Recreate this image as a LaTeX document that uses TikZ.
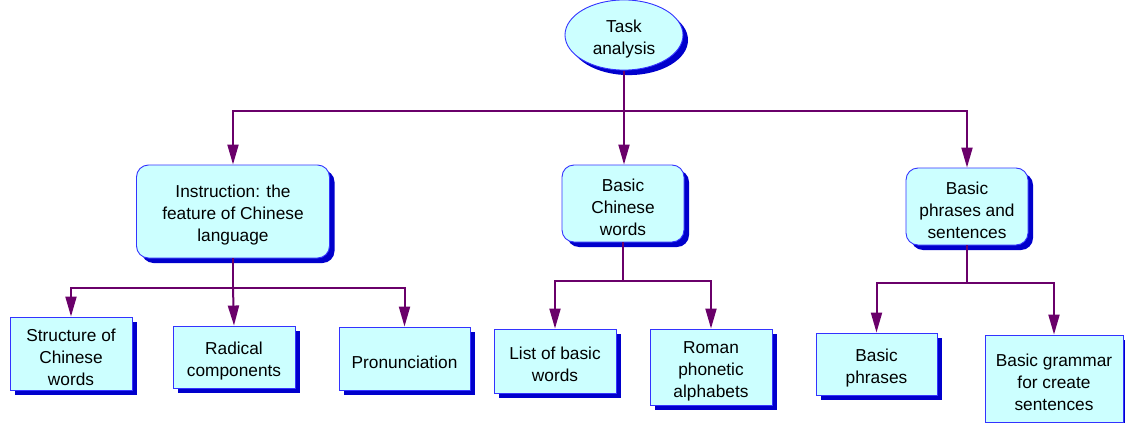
\documentclass[tikz,border=0pt]{standalone}
\usepackage{fontspec}
\setmainfont{Liberation Sans}
\usetikzlibrary{shapes.geometric,shadows,arrows.meta}
\definecolor{boxfill}{HTML}{CCFFFF}
\definecolor{boxline}{HTML}{3333FF}
\definecolor{shadowblue}{HTML}{0000CC}
\definecolor{linkcol}{HTML}{6A006A}
\newcommand\tup{\rule{0pt}{20pt}}
\tikzset{
  base/.style={draw=boxline, line width=0.9pt, fill=boxfill, align=center, inner sep=2pt,
    font=\fontsize{17.3}{22}\selectfont,
    drop shadow={shadow xshift=5pt, shadow yshift=-5pt, fill=shadowblue, opacity=1}},
  topbox/.style={base, rectangle, rounded corners=12pt},
  leaf/.style={base, rectangle},
  oval/.style={base, ellipse},
  link/.style={draw=linkcol, line width=2pt},
  arrow/.style={link, -{Triangle[length=20pt,width=11pt]}},
}
\begin{document}
\begin{tikzpicture}[x=1pt,y=-1pt]
\useasboundingbox (0,0) rectangle (1125,423);

\node[oval, minimum width=118pt, minimum height=64pt] (task) at (624,35) {\tup Task\\analysis};

\node[topbox, minimum width=193pt, minimum height=93pt] (instr) at (233,211.5) {\tup Instruction: the\\feature of Chinese\\language};
\node[topbox, minimum width=122pt, minimum height=77pt] (bcw) at (623,203.5) {\tup Basic\\Chinese\\words};
\node[topbox, minimum width=122pt, minimum height=77pt] (bps) at (967,206.5) {\tup Basic\\phrases and\\sentences};

\node[leaf, minimum width=122pt, minimum height=73pt] (struct) at (71,353.5) {\tup Structure of\\Chinese\\words};
\node[leaf, minimum width=122pt, minimum height=62pt] (rad) at (234,357) {\tup Radical\\components};
\node[leaf, minimum width=131pt, minimum height=63pt] (pron) at (404.5,358.5) {\tup Pronunciation};

\node[leaf, minimum width=122pt, minimum height=64pt] (list) at (555,361) {\tup List of basic\\words};
\node[leaf, minimum width=122pt, minimum height=76pt] (roman) at (711,367) {\tup Roman\\phonetic\\alphabets};

\node[leaf, minimum width=121pt, minimum height=62pt] (bphr) at (876.5,364) {\tup Basic\\phrases};
\node[leaf, minimum width=138pt, minimum height=87pt] (bgram) at (1054,378.5) {\tup Basic grammar\\for create\\sentences};

% connectors
\coordinate (j0) at (624,111);
\draw[link] (task.south) -- (j0);
\draw[arrow] (j0) -| (instr.north);
\draw[arrow] (j0) -- (bcw.north -| j0);
\draw[arrow] (j0) -| (bps.north);

\coordinate (j1) at (233,288);
\draw[link] (instr.south) -- (j1);
\draw[arrow] (j1) -| (struct.north);
\draw[arrow] (j1) -- (rad.north);
\draw[arrow] (j1) -| (pron.north);

\coordinate (j2) at (623,281);
\draw[link] (bcw.south) -- (j2);
\draw[arrow] (j2) -| (list.north);
\draw[arrow] (j2) -| (roman.north);

\coordinate (j3) at (967,283);
\draw[link] (bps.south) -- (j3);
\draw[arrow] (j3) -| (bphr.north);
\draw[arrow] (j3) -| (bgram.north);
\end{tikzpicture}
\end{document}
